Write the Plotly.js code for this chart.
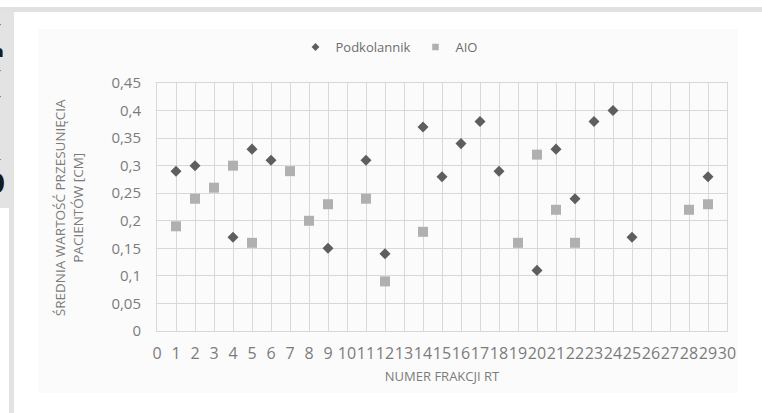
<!DOCTYPE html>
<html>
<head>
<meta charset="utf-8">
<script src="https://cdn.plot.ly/plotly-3.0.1.min.js"></script>
<style>
  html, body { margin: 0; padding: 0; background: #fff; }
  #page { position: relative; width: 762px; height: 413px; overflow: hidden; background: #fff; }
  /* page furniture around the figure */
  .band  { position: absolute; left: 0; top: 7px; width: 762px; height: 5px; background: #e1e1e1; }
  .side  { position: absolute; left: 0; top: 12px; width: 14px; height: 196px; background: #e3e3e3; }
  .strip { position: absolute; left: 9px; top: 208px; width: 5px; height: 205px; background: #e3e3e3; }
  .frame { position: absolute; left: 38px; top: 29px; width: 700px; height: 364px; background: #fbfbfb; }
  .frag  { position: absolute; font-family: "DejaVu Sans", sans-serif; color: #1a1a1a; line-height: 1; white-space: nowrap; }
  #chart { position: absolute; left: 0; top: 0; width: 762px; height: 413px; }
</style>
</head>
<body>
<div id="page">
  <div class="band"></div>
  <div class="side"></div>
  <div class="strip"></div>
  <div class="frame"></div>
  <span class="frag" style="left:-4px; top:17px; font-size:14px;">-</span>
  <span class="frag" style="left:-7px; top:44px; font-size:16px; font-weight:bold;">a</span>
  <span class="frag" style="left:-4px; top:63px; font-size:14px;">-</span>
  <span class="frag" style="left:-4px; top:89px; font-size:14px;">-</span>
  <span class="frag" style="left:-4px; top:152px; font-size:14px;">-</span>
  <span class="frag" style="left:-13px; top:171px; font-size:26px; font-weight:bold;">0</span>
  <div id="chart"></div>
</div>
<script>
// RT fraction numbers and mean patient shift [cm] for each immobilisation device
const fractionsPodkolannik = [1, 2, 4, 5, 6, 9, 11, 12, 14, 15, 16, 17, 18, 20, 21, 22, 23, 24, 25, 29];
const shiftPodkolannik     = [0.29, 0.30, 0.17, 0.33, 0.31, 0.15, 0.31, 0.14, 0.37, 0.28, 0.34, 0.38, 0.29, 0.11, 0.33, 0.24, 0.38, 0.40, 0.17, 0.28];

const fractionsAIO = [1, 2, 3, 4, 5, 7, 8, 9, 11, 12, 14, 19, 20, 21, 22, 28, 29];
const shiftAIO     = [0.19, 0.24, 0.26, 0.30, 0.16, 0.29, 0.20, 0.23, 0.24, 0.09, 0.18, 0.16, 0.32, 0.22, 0.16, 0.22, 0.23];

const seriesNames = ['Podkolannik', 'AIO'];
const xTitle = 'NUMER FRAKCJI RT';
const yTitle = 'ŚREDNIA WARTOŚĆ PRZESUNIĘCIA<br>PACIENTÓW [CM]';

const darkGrey = '#5e5e5e';
const lightGrey = '#b0b0b0';
const gridGrey = '#d8d8d8';

const traces = [
  {
    type: 'scatter', mode: 'markers', name: seriesNames[0], showlegend: false,
    x: fractionsPodkolannik, y: shiftPodkolannik,
    marker: { symbol: 'diamond', size: 8.5, color: darkGrey }
  },
  {
    type: 'scatter', mode: 'markers', name: seriesNames[1], showlegend: false,
    x: fractionsAIO, y: shiftAIO,
    marker: { symbol: 'square', size: 10, color: lightGrey }
  },
  // legend entries with the smaller key symbols
  {
    type: 'scatter', mode: 'markers', name: seriesNames[0], x: [null], y: [null],
    marker: { symbol: 'diamond', size: 6, color: darkGrey }, hoverinfo: 'skip'
  },
  {
    type: 'scatter', mode: 'markers', name: seriesNames[1], x: [null], y: [null],
    marker: { symbol: 'square', size: 6.5, color: lightGrey }, hoverinfo: 'skip'
  }
];

const layout = {
  width: 762, height: 413,
  margin: { l: 157, r: 35, t: 83, b: 82, pad: 0 },
  paper_bgcolor: 'rgba(0,0,0,0)',
  plot_bgcolor: 'rgba(0,0,0,0)',
  separators: ', ',
  font: { family: '"Open Sans", sans-serif', color: '#7b7b7b' },
  showlegend: true,
  legend: {
    orientation: 'h', x: 0.407, xanchor: 'center', y: 1.145, yanchor: 'middle',
    font: { size: 13, color: '#6e6e6e' }, bgcolor: 'rgba(0,0,0,0)',
    itemwidth: 30, tracegroupgap: 0
  },
  xaxis: {
    range: [0, 30], tickmode: 'linear', tick0: 0, dtick: 1, tickangle: 0,
    showgrid: true, gridcolor: gridGrey, gridwidth: 1,
    zeroline: false, showline: true, mirror: true, linecolor: gridGrey, linewidth: 1,
    ticks: 'outside', ticklen: 8, tickcolor: 'rgba(0,0,0,0)',
    tickfont: { size: 16, color: '#7b7b7b' },
    title: { text: xTitle, font: { size: 13, color: '#7b7b7b' }, standoff: 8 },
    fixedrange: true
  },
  yaxis: {
    range: [0, 0.45], tickmode: 'linear', tick0: 0, dtick: 0.05,
    showgrid: true, gridcolor: gridGrey, gridwidth: 1,
    zeroline: false, showline: true, mirror: true, linecolor: gridGrey, linewidth: 1,
    ticks: 'outside', ticklen: 12, tickcolor: 'rgba(0,0,0,0)',
    tickfont: { size: 15, color: '#7b7b7b' },
    fixedrange: true
  },
  annotations: [
    {
      text: yTitle, textangle: -90, showarrow: false,
      xref: 'paper', yref: 'paper', x: -0.154, y: 0.496,
      xanchor: 'center', yanchor: 'middle',
      font: { size: 13.5, color: '#7b7b7b' }
    }
  ]
};

Plotly.newPlot('chart', traces, layout, { staticPlot: true, displayModeBar: false });
</script>
</body>
</html>
